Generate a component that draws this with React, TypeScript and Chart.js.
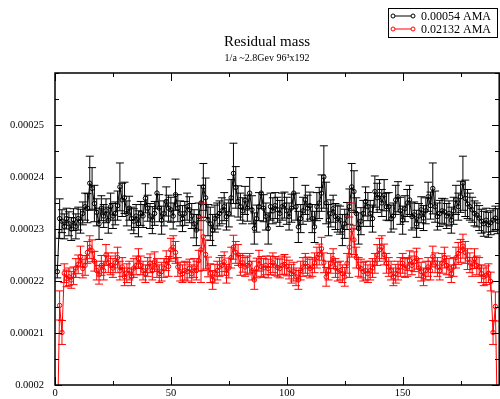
import React, { useEffect, useRef } from "react";
import { Chart, registerables } from "chart.js";

Chart.register(...registerables);

// ---- data (residual mass, units of 1e-6) ----
const TITLE = "Residual mass";
const SUBTITLE = "1/a ~2.8Gev 96\u00B3x192";
const SERIES_LABELS = ["0.00054 AMA", "0.02132 AMA"];
const SERIES_COLORS = ["#000000", "#ff0000"];
const UNIT = 1e-6;
const T_START = 1;

const MRES_LIGHT = [
  221.8, 232.0, 231.5, 230.5, 232.0, 231.0, 230.0, 231.8, 230.5, 232.0,
  231.5, 233.0, 234.3, 234.0, 238.8, 237.8, 234.9, 233.2, 231.0, 234.0,
  232.5, 233.5, 231.7, 234.3, 232.5, 233.0, 234.5, 238.1, 235.6, 236.0,
  233.0, 234.0, 232.0, 231.5, 232.5, 231.0, 233.0, 232.5, 235.9, 234.0,
  232.5, 231.7, 233.0, 236.9, 234.0, 231.7, 233.0, 235.3, 234.0, 233.7,
  232.5, 236.6, 234.0, 233.0, 232.0, 233.0, 234.3, 233.7, 232.5, 231.0,
  229.8, 232.4, 235.0, 238.1, 236.0, 231.7, 231.0, 229.8, 232.0, 232.5,
  233.0, 233.5, 234.3, 232.4, 233.0, 236.0, 240.7, 238.0, 235.3, 234.3,
  233.5, 235.5, 234.0, 236.9, 233.7, 230.1, 232.0, 234.3, 236.9, 234.0,
  232.4, 230.1, 234.3, 233.5, 234.5, 233.7, 233.0, 234.3, 234.6, 233.5,
  232.4, 234.0, 236.9, 234.3, 230.4, 232.0, 233.5, 235.6, 234.0, 234.5,
  232.0, 230.4, 234.3, 235.0, 236.9, 240.0, 235.0, 231.7, 233.0, 233.9,
  232.4, 232.0, 231.7, 229.8, 231.0, 232.5, 234.3, 238.1, 237.2, 233.0,
  230.1, 231.5, 233.0, 235.3, 234.3, 233.0, 232.0, 237.2, 236.0, 236.6,
  235.0, 236.5, 234.3, 234.3, 232.0, 232.5, 235.6, 236.2, 233.5, 231.7,
  233.9, 235.0, 235.6, 232.4, 232.7, 231.0, 232.5, 233.7, 232.1, 233.5,
  236.2, 234.5, 237.8, 234.3, 232.4, 233.0, 233.5, 233.3, 232.5, 233.0,
  231.7, 233.5, 235.6, 234.3, 236.2, 238.8, 235.9, 234.8, 234.3, 233.7,
  233.0, 232.7, 232.1, 231.5, 231.0, 231.7, 230.8, 231.2, 231.7, 232.1,
  231.5,
];

const ERR_LIGHT = [
  1.2, 3.8, 2.2, 2.4, 2.0, 2.3, 2.2, 2.1, 2.4, 2.2,
  2.3, 2.2, 2.6, 2.8, 5.2, 4.0, 3.5, 2.6, 3.0, 2.4,
  2.2, 2.3, 2.5, 2.6, 2.4, 2.2, 2.8, 4.6, 3.2, 3.0,
  2.4, 2.3, 2.2, 2.4, 2.2, 2.5, 2.3, 2.2, 2.8, 2.5,
  2.4, 2.6, 2.3, 3.0, 2.6, 2.7, 2.4, 2.8, 2.5, 2.4,
  2.5, 3.0, 2.6, 2.4, 2.5, 2.3, 2.6, 2.5, 2.4, 2.7,
  3.0, 2.6, 3.4, 4.5, 3.8, 3.0, 3.2, 3.0, 2.6, 2.5,
  2.4, 2.5, 2.7, 2.6, 2.6, 3.5, 5.8, 4.0, 3.0, 2.6,
  2.5, 2.7, 2.5, 3.0, 2.7, 3.0, 2.6, 2.7, 3.0, 2.6,
  2.6, 3.0, 2.6, 2.5, 2.5, 2.4, 2.5, 2.6, 2.5, 2.6,
  2.6, 2.7, 3.0, 2.6, 3.0, 2.7, 2.6, 2.8, 2.5, 2.6,
  2.7, 3.0, 2.7, 3.0, 3.5, 6.0, 4.0, 3.0, 2.6, 2.6,
  2.5, 2.6, 2.7, 3.0, 2.8, 2.6, 3.4, 4.5, 4.0, 3.0,
  3.0, 2.6, 2.5, 2.8, 2.7, 2.5, 2.6, 3.0, 2.8, 2.9,
  2.6, 3.0, 2.6, 2.7, 2.6, 2.5, 2.8, 2.9, 2.6, 2.7,
  2.5, 2.6, 2.8, 2.6, 2.5, 2.6, 2.4, 2.5, 2.4, 2.5,
  2.8, 2.6, 4.9, 3.0, 2.6, 2.5, 2.4, 2.5, 2.4, 2.4,
  2.5, 2.6, 2.8, 2.6, 3.0, 5.2, 3.5, 2.8, 2.6, 2.4,
  2.4, 2.3, 2.4, 2.3, 2.4, 2.3, 2.4, 2.3, 2.2, 2.3,
  2.4,
];

const MRES_HEAVY = [
  190.0, 215.3, 210.1, 221.5, 220.5, 220.8, 220.2, 221.0, 222.5, 223.2,
  224.7, 222.4, 223.0, 225.5, 226.5, 225.8, 223.8, 222.0, 221.2, 223.0,
  222.0, 225.0, 223.5, 223.0, 222.5, 223.5, 224.5, 222.0, 222.7, 220.8,
  221.5, 222.0, 220.8, 222.5, 223.0, 224.3, 223.0, 222.0, 221.4, 222.7,
  223.4, 222.0, 223.7, 222.5, 221.4, 221.8, 222.5, 223.9, 222.8, 226.0,
  226.5, 225.5, 222.7, 221.8, 221.4, 222.0, 221.8, 222.4, 221.4, 222.5,
  222.0, 223.9, 226.0, 228.5, 225.1, 222.7, 221.5, 220.2, 221.4, 222.0,
  222.7, 223.0, 223.7, 221.4, 222.5, 224.5, 226.5, 225.5, 225.0, 223.0,
  223.5, 222.7, 223.0, 223.4, 222.0, 220.2, 222.5, 223.9, 222.8, 222.5,
  223.0, 222.4, 223.0, 223.5, 222.9, 222.6, 222.4, 223.0, 223.2, 222.8,
  222.2, 221.4, 221.8, 220.8, 220.2, 222.0, 222.7, 223.4, 222.8, 222.4,
  222.7, 223.5, 224.5, 225.1, 226.2, 223.5, 220.8, 222.0, 223.4, 224.3,
  222.5, 221.8, 222.0, 221.4, 220.8, 223.4, 226.5, 229.8, 227.9, 224.5,
  222.7, 222.4, 221.8, 222.0, 221.4, 222.0, 222.5, 223.4, 225.0, 226.0,
  226.5, 225.1, 223.4, 222.7, 222.0, 220.8, 221.4, 222.0, 222.7, 223.4,
  222.5, 222.7, 223.9, 223.0, 223.7, 224.3, 222.5, 221.8, 220.8, 222.0,
  222.7, 222.0, 224.7, 223.5, 222.7, 222.0, 223.4, 224.5, 223.0, 222.5,
  221.4, 222.7, 224.5, 225.3, 225.8, 226.7, 225.5, 224.2, 223.5, 222.7,
  224.3, 223.0, 222.7, 221.4, 220.8, 221.1, 221.5, 219.9, 210.1, 215.1,
  190.0,
];

const ERR_HEAVY = [
  3.0, 2.8, 2.3, 1.8, 1.6, 1.7, 1.6, 1.7, 1.8, 1.8,
  2.0, 1.8, 1.9, 2.1, 2.2, 2.1, 1.9, 1.8, 1.8, 1.9,
  1.8, 2.0, 1.9, 1.8, 1.8, 1.9, 2.0, 1.8, 1.8, 1.7,
  1.8, 1.8, 1.7, 1.8, 1.8, 1.9, 1.8, 1.8, 1.7, 1.8,
  1.8, 1.8, 1.9, 1.8, 1.7, 1.8, 1.8, 1.9, 1.9, 2.2,
  2.2, 2.1, 1.8, 1.8, 1.7, 1.8, 1.8, 1.8, 1.7, 1.8,
  1.8, 2.0, 6.3, 6.5, 2.8, 1.9, 1.8, 1.8, 1.8, 1.8,
  1.8, 1.9, 1.9, 1.8, 1.9, 2.0, 2.3, 2.1, 2.0, 1.9,
  1.8, 1.8, 1.8, 1.9, 1.8, 1.8, 1.9, 2.0, 1.9, 1.8,
  1.8, 1.8, 1.8, 1.9, 1.8, 1.8, 1.8, 1.8, 1.9, 1.8,
  1.8, 1.8, 1.8, 1.7, 1.8, 1.8, 1.8, 1.9, 1.8, 1.8,
  1.8, 1.9, 2.0, 2.0, 2.2, 1.9, 1.8, 1.8, 1.9, 1.9,
  1.8, 1.8, 1.8, 1.7, 1.8, 1.9, 5.8, 5.2, 2.8, 2.0,
  1.8, 1.8, 1.8, 1.8, 1.7, 1.8, 1.8, 1.9, 2.0, 2.2,
  2.2, 2.0, 1.9, 1.8, 1.8, 1.7, 1.8, 1.8, 1.8, 1.9,
  1.8, 1.8, 1.9, 1.8, 1.9, 2.0, 1.8, 1.8, 1.7, 1.8,
  1.8, 1.8, 2.0, 1.9, 1.8, 1.8, 1.9, 2.0, 1.8, 1.8,
  1.7, 1.8, 2.0, 2.1, 2.2, 2.3, 2.1, 2.0, 1.9, 1.8,
  1.9, 1.8, 1.8, 1.7, 1.7, 1.8, 1.8, 1.8, 2.3, 2.8,
  3.0,
];

const X_TICKS = [0, 25, 50, 75, 100, 125, 150, 175];
const X_LABELS = [0, 50, 100, 150];
const Y_TICKS = [
  0.0002, 0.000205, 0.00021, 0.000215, 0.00022, 0.000225, 0.00023,
  0.000235, 0.00024, 0.000245, 0.00025, 0.000255, 0.00026,
];
const Y_LABELS = ["0.0002", "0.00021", "0.00022", "0.00023", "0.00024", "0.00025"];

const FONT = '"Liberation Serif", "Times New Roman", serif';

function labelForY(v: number): string {
  const hit = Y_LABELS.find((s) => Math.abs(parseFloat(s) - v) < 1e-10);
  return hit || "";
}

const ERRS = [ERR_LIGHT, ERR_HEAVY];

const errorBarPlugin = {
  id: "errorBars",
  afterDatasetDraw(chart: any, args: any) {
    const { ctx, chartArea, scales } = chart;
    const xs = scales.x;
    const ys = scales.y;
    const ds = chart.data.datasets[args.index];
    const errs = ERRS[args.index];
    ctx.save();
    ctx.beginPath();
    ctx.rect(chartArea.left, chartArea.top, chartArea.right - chartArea.left, chartArea.bottom - chartArea.top);
    ctx.clip();
    ctx.strokeStyle = ds.borderColor;
    ctx.lineWidth = 1;
    ds.data.forEach((p: any, i: number) => {
      const px = xs.getPixelForValue(p.x);
      const e = errs[i] * UNIT;
      const yt = ys.getPixelForValue(p.y + e);
      const yb = ys.getPixelForValue(p.y - e);
      ctx.beginPath();
      ctx.moveTo(px, yt);
      ctx.lineTo(px, yb);
      ctx.moveTo(px - 4, yt);
      ctx.lineTo(px + 4, yt);
      ctx.moveTo(px - 4, yb);
      ctx.lineTo(px + 4, yb);
      ctx.stroke();
    });
    ctx.restore();
  },
};

const framePlugin = {
  id: "frameDecor",
  afterDraw(chart: any) {
    const { ctx, chartArea, scales } = chart;
    const { left, right, top, bottom } = chartArea;
    ctx.save();
    ctx.strokeStyle = "#000";
    ctx.lineWidth = 1.5;
    ctx.strokeRect(left, top, right - 0.8 - left, bottom - top);
    ctx.lineWidth = 1;
    scales.x.ticks.forEach((t: any) => {
      const px = Math.round(scales.x.getPixelForValue(t.value)) + 0.5;
      const len = X_LABELS.includes(t.value) ? 8 : 4;
      ctx.beginPath();
      ctx.moveTo(px, bottom);
      ctx.lineTo(px, bottom - len);
      ctx.moveTo(px, top);
      ctx.lineTo(px, top + len);
      ctx.stroke();
    });
    scales.y.ticks.forEach((t: any) => {
      const py = Math.round(scales.y.getPixelForValue(t.value)) + 0.5;
      const len = labelForY(t.value) ? 7 : 4;
      ctx.beginPath();
      ctx.moveTo(left, py);
      ctx.lineTo(left + len, py);
      ctx.moveTo(right - 1, py);
      ctx.lineTo(right - 1 - len, py);
      ctx.stroke();
    });

    ctx.fillStyle = "#000";
    ctx.textAlign = "center";
    ctx.textBaseline = "alphabetic";
    ctx.font = `15px ${FONT}`;
    ctx.fillText(TITLE, 267, 46);
    ctx.font = `10px ${FONT}`;
    ctx.fillText(SUBTITLE, 267, 61);

    ctx.lineWidth = 1;
    ctx.strokeRect(388.5, 8.5, 109, 29);
    ctx.textAlign = "left";
    ctx.font = `12px ${FONT}`;
    SERIES_LABELS.forEach((lab, i) => {
      const yy = 16 + i * 13;
      ctx.strokeStyle = SERIES_COLORS[i];
      ctx.beginPath();
      ctx.moveTo(393, yy);
      ctx.lineTo(413, yy);
      ctx.stroke();
      [393, 413].forEach((cx) => {
        ctx.beginPath();
        ctx.arc(cx, yy, 2, 0, Math.PI * 2);
        ctx.fillStyle = "#fff";
        ctx.fill();
        ctx.stroke();
      });
      ctx.fillStyle = "#000";
      ctx.fillText(lab, 421, yy + 4);
    });
    ctx.restore();
  },
};

export default function App() {
  const ref = useRef<HTMLCanvasElement | null>(null);
  useEffect(() => {
    if (!ref.current) return;
    const toPoints = (arr: number[]) => arr.map((v, i) => ({ x: T_START + i, y: v * UNIT }));
    const chart = new Chart(ref.current, {
      type: "line",
      data: {
        datasets: [
          {
            label: SERIES_LABELS[0],
            data: toPoints(MRES_LIGHT),
            borderColor: SERIES_COLORS[0],
            backgroundColor: "transparent",
            borderWidth: 1,
            pointRadius: 2.2,
            pointBorderWidth: 1,
            pointBackgroundColor: "transparent",
            pointBorderColor: SERIES_COLORS[0],
            tension: 0,
            order: 2,
          },
          {
            label: SERIES_LABELS[1],
            data: toPoints(MRES_HEAVY),
            borderColor: SERIES_COLORS[1],
            backgroundColor: "transparent",
            borderWidth: 1,
            pointRadius: 2.2,
            pointBorderWidth: 1,
            pointBackgroundColor: "transparent",
            pointBorderColor: SERIES_COLORS[1],
            tension: 0,
            order: 1,
          },
        ],
      },
      options: {
        animation: false,
        responsive: false,
        maintainAspectRatio: false,
        layout: { autoPadding: false, padding: { top: 73, left: 0, right: 0, bottom: 0 } },
        plugins: {
          legend: { display: false },
          title: { display: false },
          tooltip: { enabled: false },
        },
        scales: {
          x: {
            type: "linear",
            min: 0,
            max: 192,
            grid: { display: false, drawTicks: false },
            border: { display: false },
            afterBuildTicks: (s: any) => {
              s.ticks = X_TICKS.map((v) => ({ value: v }));
            },
            afterFit: (s: any) => {
              s.height = 14;
              s.paddingLeft = 0;
              s.paddingRight = 0;
              s.paddingTop = 0;
              s.paddingBottom = 0;
            },
            ticks: {
              autoSkip: false,
              maxRotation: 0,
              padding: 2,
              color: "#000",
              font: { family: FONT, size: 10.5 },
              callback: (v: any) => (X_LABELS.includes(Number(v)) ? String(v) : ""),
            },
          },
          y: {
            type: "linear",
            min: 0.0002,
            max: 0.00026,
            grid: { display: false, drawTicks: false },
            border: { display: false },
            afterBuildTicks: (s: any) => {
              s.ticks = Y_TICKS.map((v) => ({ value: v }));
            },
            afterFit: (s: any) => {
              s.width = 55;
              s.paddingLeft = 0;
              s.paddingRight = 0;
              s.paddingTop = 0;
              s.paddingBottom = 0;
            },
            ticks: {
              autoSkip: false,
              padding: 11,
              color: "#000",
              font: { family: FONT, size: 10.5 },
              callback: (v: any) => labelForY(Number(v)),
            },
          },
        },
      },
      plugins: [errorBarPlugin, framePlugin],
    } as any);
    return () => chart.destroy();
  }, []);
  return (
    <div style={{ position: "absolute", left: 0, top: 0, width: 500, height: 399, background: "#fff" }}>
      <canvas ref={ref} width={500} height={399} style={{ display: "block" }} />
    </div>
  );
}
